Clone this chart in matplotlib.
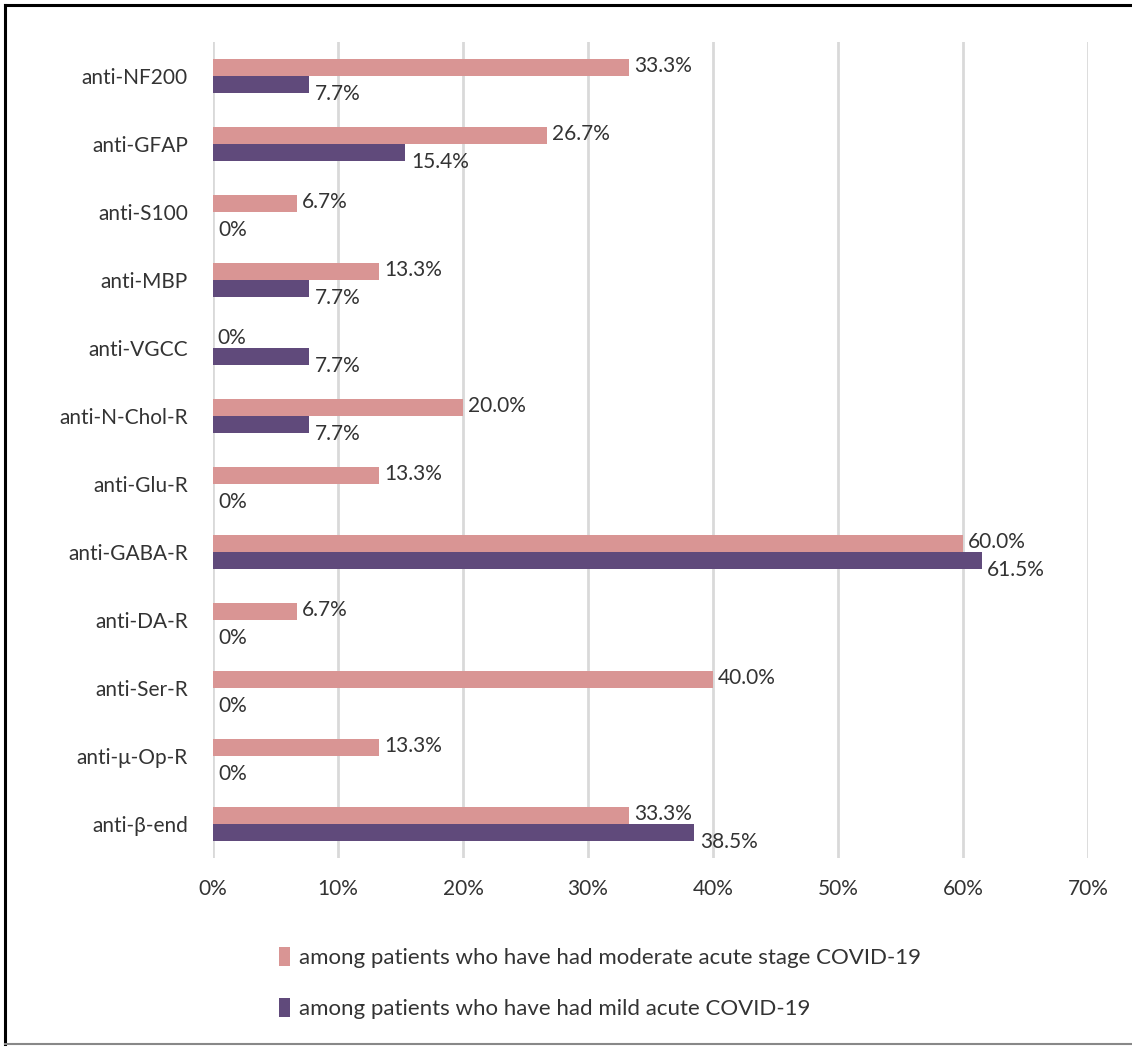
import matplotlib.pyplot as plt
from matplotlib.lines import Line2D
from matplotlib.ticker import PercentFormatter

plt.rcParams['font.family'] = ['Lato', 'DejaVu Sans']

# Antibody categories (top to bottom)
categories = ['anti-NF200', 'anti-GFAP', 'anti-S100', 'anti-MBP', 'anti-VGCC',
              'anti-N-Chol-R', 'anti-Glu-R', 'anti-GABA-R', 'anti-DA-R',
              'anti-Ser-R', 'anti-μ-Op-R', 'anti-β-end']

# Share of patients (%) with elevated antibodies
moderate = [33.3, 26.7, 6.7, 13.3, 0, 20.0, 13.3, 60.0, 6.7, 40.0, 13.3, 33.3]
mild = [7.7, 15.4, 0, 7.7, 7.7, 7.7, 0, 61.5, 0, 0, 0, 38.5]

moderate_label = 'among patients who have had moderate acute stage COVID-19'
mild_label = 'among patients who have had mild acute COVID-19'

pink = '#d99594'
purple = '#604a7b'
text_color = '#333333'
fs = 15

fig = plt.figure(figsize=(11.32, 10.47), dpi=100)
ax = fig.add_axes([0.18816, 0.18052, 0.77297, 0.77937])

y = list(range(len(categories)))
h = 0.25
ax.barh([i - h / 2 for i in y], moderate, height=h, color=pink, label=moderate_label, zorder=3)
ax.barh([i + h / 2 for i in y], mild, height=h, color=purple, label=mild_label, zorder=3)


def fmt(v):
    return '0%' if v == 0 else f'{v:.1f}%'


for i, v in enumerate(moderate):
    ax.annotate(fmt(v), (v, i - h / 2), xytext=(3.5, 1), textcoords='offset points',
                va='center', ha='left', fontsize=fs, color=text_color)
for i, v in enumerate(mild):
    ax.annotate(fmt(v), (v, i + h / 2), xytext=(4, -6.5), textcoords='offset points',
                va='center', ha='left', fontsize=fs, color=text_color)

ax.set_xlim(0, 70)
ax.set_ylim(len(categories) - 0.5, -0.5)
ax.set_xticks(range(0, 71, 10))
ax.xaxis.set_major_formatter(PercentFormatter(decimals=0))
ax.set_yticks(y)
ax.set_yticklabels(categories)
ax.tick_params(axis='both', length=0, labelsize=fs, colors=text_color)
ax.tick_params(axis='x', pad=15)
ax.tick_params(axis='y', pad=18)
ax.grid(axis='x', color='#d9d9d9', linewidth=2, zorder=0)
for s in ax.spines.values():
    s.set_visible(False)

fig.legend(loc='upper left', bbox_to_anchor=(0.2288, 0.1146), frameon=False,
           fontsize=16, handlelength=0.5, handleheight=0.92, handletextpad=0.4,
           labelspacing=1.34, labelcolor=text_color)

# Outer border of the chart area
fig.add_artist(Line2D([5 / 1132, 5 / 1132], [1 - 5 / 1047, 1 - 1044 / 1047],
                      color='black', linewidth=2.2, transform=fig.transFigure))
fig.add_artist(Line2D([5 / 1132, 1], [1 - 5 / 1047, 1 - 5 / 1047],
                      color='black', linewidth=2.2, transform=fig.transFigure))
fig.add_artist(Line2D([5 / 1132, 1], [1 - 1044 / 1047, 1 - 1044 / 1047],
                      color='#888888', linewidth=1.5, transform=fig.transFigure))

fig.savefig('out.png', dpi=100)
